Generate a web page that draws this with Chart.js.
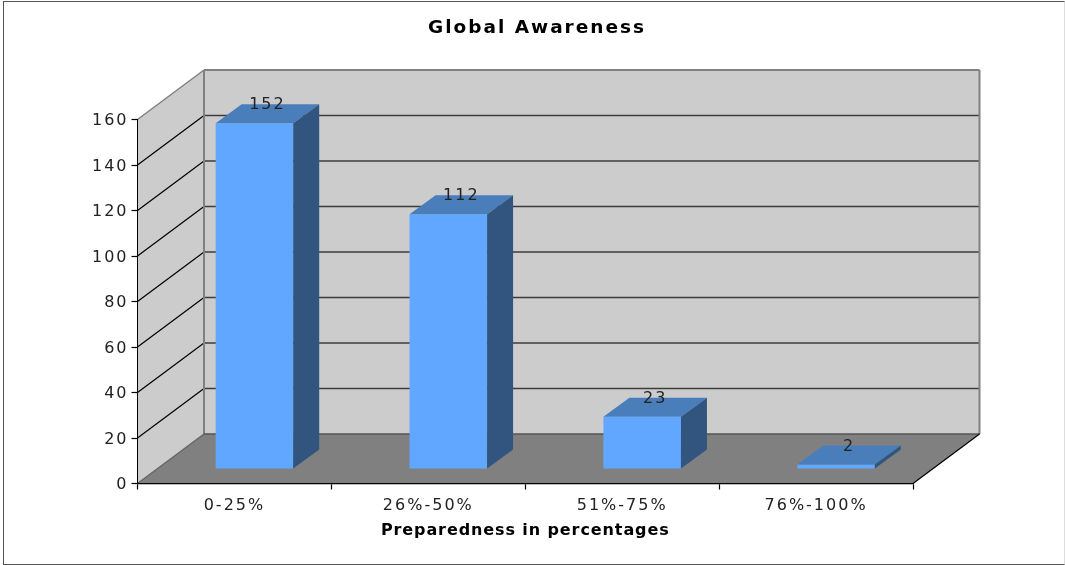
<!DOCTYPE html>
<html lang="en">

<head>
    <meta charset="UTF-8">
    <title>Global Awareness</title>
    <script src="https://cdn.jsdelivr.net/npm/chart.js"></script>
    <style>
        html, body { margin: 0; padding: 0; background: #fff; overflow: hidden; }
        #wrap { position: relative; width: 1065px; height: 565px; }
        #frame { position: absolute; left: 3px; top: 1px; width: 1060px; height: 562px; border: 1px solid #555; border-right-color: #ddd; pointer-events: none; }
    </style>
</head>

<body>
    <div id="wrap">
        <canvas id="myChart" width="1065" height="565"></canvas>
        <div id="frame"></div>
    </div>

    <script>
        const categories = ['0-25%', '26%-50%', '51%-75%', '76%-100%'];
        const values = [152, 112, 23, 2];
        const chartTitle = 'Global Awareness';
        const xTitle = 'Preparedness in percentages';

        // how far the back wall sits behind the front plane
        const depthX = 66.5, depthY = -49.5;
        // bars stand a bit inside the floor
        const barX = 20, barY = -14.5;
        const sideX = 26, sideY = -19;

        function poly(ctx, pts, fill, stroke, lw) {
            ctx.beginPath();
            pts.forEach((p, i) => i ? ctx.lineTo(p[0], p[1]) : ctx.moveTo(p[0], p[1]));
            ctx.closePath();
            if (fill) { ctx.fillStyle = fill; ctx.fill(); }
            if (stroke) { ctx.strokeStyle = stroke; ctx.lineWidth = lw || 1; ctx.stroke(); }
        }

        function line(ctx, x1, y1, x2, y2, color, lw) {
            ctx.beginPath();
            ctx.moveTo(x1, y1);
            ctx.lineTo(x2, y2);
            ctx.strokeStyle = color;
            ctx.lineWidth = lw;
            ctx.stroke();
        }

        const box3d = {
            id: 'box3d',
            beforeDraw(chart) {
                const ctx = chart.ctx;
                const y = chart.scales.y;
                const x = chart.scales.x;
                const a = chart.chartArea;
                ctx.letterSpacing = '2px';
                // the axis title is set tighter than the other texts
                if (!x.tightTitle) {
                    const drawTitle = x.drawTitle;
                    x.drawTitle = function () {
                        ctx.save();
                        ctx.letterSpacing = '0.9px';
                        drawTitle.call(this);
                        ctx.restore();
                    };
                    x.tightTitle = true;
                }
                ctx.save();
                // back wall, left wall, floor
                poly(ctx, [[a.left + depthX, a.top + depthY], [a.right + depthX, a.top + depthY], [a.right + depthX, a.bottom + depthY], [a.left + depthX, a.bottom + depthY]], '#cccccc');
                poly(ctx, [[a.left, a.top], [a.left + depthX, a.top + depthY], [a.left + depthX, a.bottom + depthY], [a.left, a.bottom]], '#cccccc');
                poly(ctx, [[a.left, a.bottom], [a.right, a.bottom], [a.right + depthX, a.bottom + depthY], [a.left + depthX, a.bottom + depthY]], '#808080');
                y.ticks.forEach(t => {
                    const py = y.getPixelForValue(t.value);
                    if (t.value > 0 && t.value < 160) {
                        line(ctx, a.left, py, a.left + depthX, py + depthY, '#000', 1.2);
                        line(ctx, a.left + depthX, py + depthY, a.right + depthX, py + depthY, '#3c3c3c', 1.6);
                    }
                });
                // wall edges
                line(ctx, a.left, a.top, a.left + depthX, a.top + depthY, '#808080', 1.5);
                line(ctx, a.left + depthX, a.top + depthY, a.right + depthX, a.top + depthY, '#808080', 2);
                line(ctx, a.left + depthX, a.top + depthY, a.left + depthX, a.bottom + depthY, '#808080', 2);
                line(ctx, a.right + depthX, a.top + depthY, a.right + depthX, a.bottom + depthY, '#808080', 2);
                line(ctx, a.left + depthX, a.bottom + depthY, a.right + depthX, a.bottom + depthY, '#555555', 1.6);
                line(ctx, a.left, a.bottom, a.left + depthX, a.bottom + depthY, '#666666', 1.5);
                line(ctx, a.right, a.bottom, a.right + depthX, a.bottom + depthY, '#000', 1.2);
                ctx.restore();
            },
            beforeDatasetsDraw(chart) {
                chart.ctx.save();
                chart.ctx.translate(barX, barY);
            },
            afterDatasetsDraw(chart) {
                const ctx = chart.ctx;
                ctx.restore();
                chart.getDatasetMeta(0).data.forEach((bar, i) => {
                    const l = bar.x - bar.width / 2 + barX;
                    const r = bar.x + bar.width / 2 + barX;
                    const t = bar.y + barY;
                    const b = bar.base + barY;
                    poly(ctx, [[l, t], [r, t], [r + sideX, t + sideY], [l + sideX, t + sideY]], '#4a7ebb');
                    poly(ctx, [[r, t], [r + sideX, t + sideY], [r + sideX, b + sideY], [r, b]], '#31557f');
                    ctx.save();
                    ctx.fillStyle = '#222';
                    ctx.font = '16px "DejaVu Sans"';
                    ctx.textAlign = 'center';
                    ctx.textBaseline = 'middle';
                    ctx.fillText(values[i], (l + r) / 2 + sideX / 2, t - 18);
                    ctx.restore();
                });
            }
        };

        new Chart(document.getElementById('myChart'), {
            type: 'bar',
            plugins: [box3d],
            data: {
                labels: categories,
                datasets: [{
                    data: values,
                    backgroundColor: '#62a7ff',
                    barPercentage: 0.4,
                    categoryPercentage: 1
                }]
            },
            options: {
                responsive: false,
                animation: false,
                layout: { padding: { left: 9, right: 0, top: 0, bottom: 0 } },
                plugins: {
                    legend: { display: false },
                    tooltip: { enabled: false },
                    title: {
                        display: true,
                        text: chartTitle,
                        color: '#000',
                        font: { family: '"DejaVu Sans"', size: 18.5, weight: 'bold', lineHeight: 1.2 },
                        padding: { top: 17, bottom: 80.3 }
                    }
                },
                scales: {
                    x: {
                        grid: { drawOnChartArea: false, tickLength: 6, tickColor: '#000', tickWidth: 1.2 },
                        border: { color: '#000', width: 1.3 },
                        ticks: { color: '#222', font: { family: '"DejaVu Sans"', size: 16 }, padding: 7, maxRotation: 0 },
                        title: {
                            display: true,
                            text: xTitle,
                            color: '#000',
                            font: { family: '"DejaVu Sans"', size: 16, weight: 'bold' },
                            padding: { top: 0, bottom: 25 }
                        },
                        afterFit(scale) { scale.height = 81.5; }
                    },
                    y: {
                        min: 0,
                        max: 160,
                        grid: { drawOnChartArea: false, tickLength: 6, tickColor: '#000', tickWidth: 1.2 },
                        border: { color: '#000', width: 1 },
                        ticks: { stepSize: 20, color: '#222', font: { family: '"DejaVu Sans"', size: 16 }, padding: 3, labelOffset: 1.5 },
                        afterFit(scale) { scale.width = 128.5; }
                    },
                    // empty axis, only keeps the room to the right of the front plane
                    yRoom: {
                        position: 'right',
                        grid: { display: false },
                        border: { display: false },
                        ticks: { display: false },
                        afterFit(scale) { scale.width = 152; }
                    }
                }
            }
        });
    </script>
</body>

</html>
